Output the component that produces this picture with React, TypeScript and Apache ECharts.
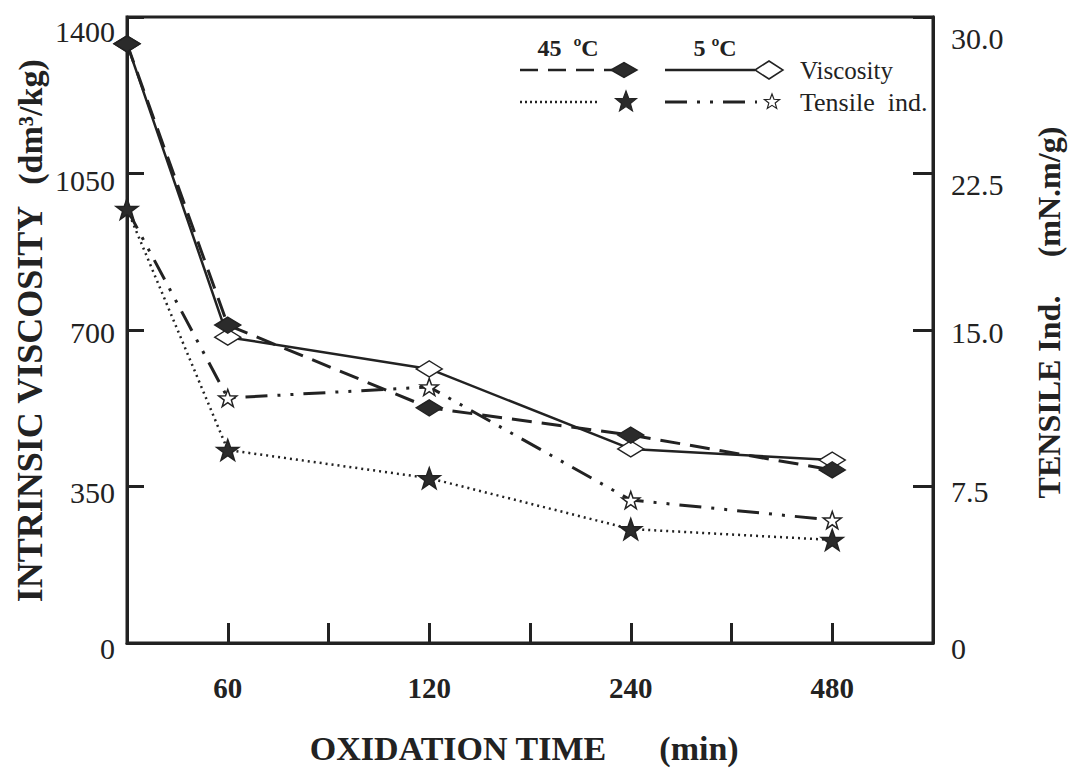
import React, { useEffect, useRef } from "react";
import * as echarts from "echarts";

// ---- data ----
const xCategories = ["0", "60", "", "120", "", "240", "", "480", ""];
const times = ["0", "60", "120", "240", "480"];
const viscosity45 = [1340, 711, 526, 465, 387];
const viscosity5 = [1340, 684, 613, 434, 409];
const tensile45 = [20.8, 9.25, 7.9, 5.46, 4.94];
const tensile5 = [20.8, 11.74, 12.27, 6.85, 5.89];
const leftTicks = { min: 0, max: 1400, interval: 350 };
const rightTicks = { min: 0, max: 30, interval: 7.5 };

const FONT = "Liberation Serif";
const INK = "#222";

const STAR_PATH =
  "path://M0,-10L2.351,-3.236L9.511,-3.09L3.804,1.236L5.878,8.09L0,4L-5.878,8.09L-3.804,1.236L-9.511,-3.09L-2.351,-3.236Z";

function starPoints(cx: number, cy: number, R: number) {
  const pts: number[][] = [];
  const r = R * 0.42;
  for (let i = 0; i < 10; i++) {
    const a = (-90 + i * 36) * (Math.PI / 180);
    const rad = i % 2 === 0 ? R : r;
    pts.push([cx + rad * Math.cos(a), cy + rad * Math.sin(a)]);
  }
  return pts;
}
function diamondPoints(cx: number, cy: number, w: number, h: number) {
  return [
    [cx - w / 2, cy],
    [cx, cy - h / 2],
    [cx + w / 2, cy],
    [cx, cy + h / 2],
  ];
}

const pair = (vals: number[]) => vals.map((v, i) => [xCategories.indexOf(times[i]), v]);

// downward shift (px) of each tick label, bottom to top
const leftShift = [5, 6, 2, 7, 14];
const rightShift = [5, 5, 2, 11, 21];
const shiftRich: any = {};
[...leftShift, ...rightShift].forEach((s) => {
  shiftRich["s" + s] = { fontSize: 1, lineHeight: Math.max(1, 2 * s), height: Math.max(1, 2 * s) };
});
const shifted = (txt: string, s: number) => `{s${s}| }\n{t|${txt}}`;

export default function App() {
  const ref = useRef<HTMLDivElement>(null);
  useEffect(() => {
    if (!ref.current) return;
    const chart = echarts.init(ref.current, null, { renderer: "svg" });
    const filled = { color: "#2b2b2b", borderColor: INK, borderWidth: 1.5 };
    const open = { color: "#fff", borderColor: INK, borderWidth: 1.5 };
    const legendLine = (x1: number, x2: number, y: number, dash: any, w: number) => ({
      type: "line",
      shape: { x1, y1: y, x2, y2: y },
      style: { stroke: INK, lineWidth: w, lineDash: dash },
    });
    const titleText = (text: string, x: number, y: number, rot: number, size: number) => ({
      type: "text",
      x,
      y,
      rotation: rot,
      style: {
        text,
        fill: INK,
        font: `bold ${size}px "${FONT}"`,
        align: "center",
        verticalAlign: "middle",
      },
    });
    const labelRich = { ...shiftRich, t: { fontSize: 30, lineHeight: 30, fontFamily: FONT, color: INK } };
    chart.setOption({
      animation: false,
      backgroundColor: "#fff",
      grid: {
        left: 127,
        right: 135,
        top: 17,
        bottom: 126,
        containLabel: false,
        outerBoundsMode: "none",
        show: true,
        borderColor: INK,
        borderWidth: 3,
      },
      xAxis: {
        type: "category",
        data: xCategories,
        boundaryGap: false,
        axisLine: { lineStyle: { color: INK, width: 3 } },
        axisTick: { inside: true, length: 20, interval: 0, lineStyle: { color: INK, width: 3 } },
        axisLabel: {
          interval: 0,
          formatter: (v: string) => (v === "0" ? "" : v),
          color: INK,
          fontFamily: FONT,
          fontWeight: "bold",
          fontSize: 29,
          margin: 30,
        },
        splitLine: { show: false },
      },
      yAxis: [
        {
          type: "value",
          ...leftTicks,
          axisLine: { show: true, lineStyle: { color: INK, width: 3 } },
          axisTick: { show: true, inside: true, length: 17, lineStyle: { color: INK, width: 3 } },
          axisLabel: {
            color: INK,
            fontFamily: FONT,
            fontSize: 30,
            margin: 12,
            formatter: (v: number) => shifted(String(v), leftShift[Math.round(v / leftTicks.interval)] ?? 0),
            rich: labelRich,
          },
          splitLine: { show: false },
        },
        {
          type: "value",
          position: "right",
          ...rightTicks,
          axisLine: { show: true, lineStyle: { color: INK, width: 3 } },
          axisTick: { show: true, inside: true, length: 20, lineStyle: { color: INK, width: 3 } },
          axisLabel: {
            color: INK,
            fontFamily: FONT,
            fontSize: 30,
            margin: 18,
            formatter: (v: number) =>
              shifted(v === 0 ? "0" : v.toFixed(1), rightShift[Math.round(v / rightTicks.interval)] ?? 0),
            rich: labelRich,
          },
          splitLine: { show: false },
        },
      ],
      series: [
        {
          name: "Tensile 5",
          type: "line",
          yAxisIndex: 1,
          data: pair(tensile5),
          symbol: STAR_PATH,
          symbolSize: 18,
          symbolKeepAspect: true,
          itemStyle: open,
          lineStyle: { color: INK, width: 3, type: [22, 10, 3, 10, 3, 10] },
          z: 2,
        },
        {
          name: "Tensile 45",
          type: "line",
          yAxisIndex: 1,
          data: pair(tensile45),
          symbol: STAR_PATH,
          symbolSize: 22,
          symbolKeepAspect: true,
          itemStyle: filled,
          lineStyle: { color: INK, width: 2.5, type: [2, 4] },
          z: 3,
        },
        {
          name: "Viscosity 5",
          type: "line",
          data: pair(viscosity5),
          symbol: "diamond",
          symbolSize: [26, 16],
          itemStyle: open,
          lineStyle: { color: INK, width: 2.5, type: "solid" },
          z: 4,
        },
        {
          name: "Viscosity 45",
          type: "line",
          data: pair(viscosity45),
          symbol: "diamond",
          symbolSize: [26, 16],
          itemStyle: filled,
          lineStyle: { color: INK, width: 3, type: [20, 10] },
          z: 5,
        },
      ],
      graphic: [
        // legend
        {
          type: "text",
          x: 568,
          y: 48,
          style: { text: "45  ºC", fill: INK, font: `bold 24px "${FONT}"`, align: "center", verticalAlign: "middle" },
        },
        {
          type: "text",
          x: 715,
          y: 48,
          style: { text: "5 ºC", fill: INK, font: `bold 24px "${FONT}"`, align: "center", verticalAlign: "middle" },
        },
        legendLine(520, 612, 70, [18, 10], 2.5),
        { type: "polygon", shape: { points: diamondPoints(624, 70, 26, 15) }, style: { fill: "#2b2b2b", stroke: INK, lineWidth: 1.5 } },
        legendLine(665, 755, 70, null, 2.5),
        { type: "polygon", shape: { points: diamondPoints(769, 70, 28, 18) }, style: { fill: "#fff", stroke: INK, lineWidth: 1.5 } },
        {
          type: "text",
          x: 800,
          y: 70,
          style: { text: "Viscosity", fill: INK, font: `25px "${FONT}"`, align: "left", verticalAlign: "middle" },
        },
        legendLine(520, 600, 102, [2, 3], 2.5),
        { type: "polygon", shape: { points: starPoints(626, 102, 11) }, style: { fill: "#2b2b2b", stroke: INK, lineWidth: 1.2 } },
        legendLine(665, 757, 102, [22, 10, 3, 10, 3, 10], 3),
        { type: "polygon", shape: { points: starPoints(772, 102, 8) }, style: { fill: "#fff", stroke: INK, lineWidth: 1.2 } },
        {
          type: "text",
          x: 800,
          y: 102,
          style: { text: "Tensile  ind.", fill: INK, font: `26px "${FONT}"`, align: "left", verticalAlign: "middle" },
        },
        // axis titles
        titleText("INTRINSIC VISCOSITY", 30, 404, Math.PI / 2, 36),
        titleText("(dm³/kg)", 30, 122, Math.PI / 2, 34),
        titleText("TENSILE Ind.", 1049, 397, Math.PI / 2, 32),
        titleText("(mN.m/g)", 1049, 192, Math.PI / 2, 32),
        titleText("OXIDATION TIME", 458, 748, 0, 34),
        titleText("(min)", 699, 748, 0, 34),
      ],
    });
    return () => chart.dispose();
  }, []);
  return (
    <div
      ref={ref}
      style={{ position: "absolute", left: 0, top: 0, width: 1068, height: 769, background: "#fff" }}
    />
  );
}
